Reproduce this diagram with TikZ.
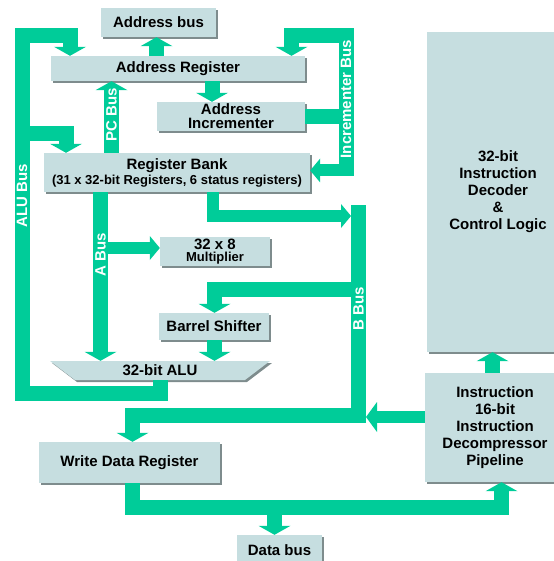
\documentclass[tikz,border=0pt]{standalone}
\usepackage{fontspec}
\setmainfont{Liberation Sans}
\usetikzlibrary{arrows.meta,shapes.geometric,shadows}
\begin{document}
\begin{tikzpicture}[
    x=1pt,y=-1pt,
    font=\bfseries\fontsize{15}{17}\selectfont,
    box/.style={fill=boxfill,inner sep=0pt,align=center,
      drop shadow={shadow xshift=2pt,shadow yshift=-2pt,fill=boxshade,opacity=1}},
    busline/.style={draw=busgreen,line width=15pt},
    bus/.style={busline,-{Triangle[width=32pt,length=9pt,line width=0pt]}},
    hbus/.style={busline,line width=12pt,-{Triangle[width=24pt,length=10pt,line width=0pt]}},
    buslabel/.style={text=white,rotate=90,inner sep=0pt}
  ]
    \definecolor{busgreen}{HTML}{00CC99}
    \definecolor{boxfill}{HTML}{C6DEE0}
    \definecolor{boxshade}{HTML}{7E8C8D}
    \useasboundingbox (0,0) rectangle (553,561);
    \node[box,minimum width=115pt,minimum height=29pt] (addrbus) at (158.5,22.5) {Address bus};
    \node[box,minimum width=254pt,minimum height=25pt] (addrreg) at (178,68.5) {Address Register};
    \node[box,minimum width=148pt,minimum height=29pt,font=\bfseries\fontsize{15}{14}\selectfont]
      (incr) at (231,116.5) {Address\\Incrementer};
    \node[box,minimum width=266pt,minimum height=39pt,font=\bfseries\fontsize{15}{15}\selectfont]
      (regbank) at (177,172.5) {Register Bank\\{\fontsize{13}{15}\selectfont(31 x 32-bit Registers, 6 status registers)}};
    \node[box,minimum width=110pt,minimum height=29pt,font=\bfseries\fontsize{15}{12}\selectfont]
      (mult) at (215,251.5) {32 x 8\\{\fontsize{13}{12}\selectfont Multiplier}};
    \node[box,minimum width=110pt,minimum height=27pt] (barrel) at (214,326.5) {Barrel Shifter};
    \node[box,trapezium,trapezium left angle=45,trapezium right angle=45,shape border rotate=180,
      trapezium stretches=true,minimum width=220pt,minimum height=19pt] (alu) at (160,370.5) {32-bit ALU};
    \node[box,minimum width=181pt,minimum height=41pt] (wdr) at (129.5,462.5) {Write Data Register};
    \node[box,minimum width=85pt,minimum height=30pt] (databus) at (279.5,550) {Data bus};
    \node[box,minimum width=142pt,minimum height=320pt] (dec) at (498,192)
      {32-bit\\Instruction\\Decoder\\\&\\Control Logic};
    \node[box,minimum width=140pt,minimum height=109pt] (pipe) at (495,427.5)
      {Instruction\\16-bit\\Instruction\\Decompressor\\Pipeline};
    \coordinate (bleft) at (351,216);
    \coordinate (bright) at (366,417);
    \draw[bus] (alu.south -| 160,0) |- (22,393) |- (70,36) -- (addrreg.north -| 70,0);
    \draw[bus] (22,133.5) -| (regbank.north -| 66,0);
    \draw[bus] (regbank.north -| 111.5,0) -- (addrreg.south -| 111.5,0);
    \draw[bus] (addrreg.north -| 156.5,0) -- (addrbus.south -| 156.5,0);
    \draw[bus] (addrreg.south -| 212,0) -- (incr.north -| 212,0);
    \draw[busline] (incr.east) -- (346,116.5);
    \draw[bus] (346,176) -- (346,36) -| (addrreg.north -| 291.5,0);
    \draw[hbus] (346,116.5) |- (regbank.east |- 0,170.5);
    \draw[bus] (regbank.south -| 100.5,0) -- (alu.north -| 100.5,0);
    \draw[hbus] (100.5,248) -- (mult.west |- 0,248);
    \draw[hbus] (regbank.south -| 212.5,0) |- (bleft);
    \draw[bus] (358.5,205) |- (132.5,415.5) -- (wdr.north -| 132.5,0);
    \draw[bus] (358.5,289) -| (barrel.north -| 214.5,0);
    \draw[bus] (barrel.south -| 214.5,0) -- (alu.north -| 214.5,0);
    \draw[hbus,-{Triangle[width=30pt,length=11pt,line width=0pt]}] (pipe.west |- 0,417) -- (bright);
    \draw[bus] (pipe.north -| 492.5,0) -- (dec.south -| 492.5,0);
    \draw[bus] (wdr.south -| 132,0) |- (501.5,507.5) -- (pipe.south -| 501.5,0);
    \draw[bus] (274.5,507.5) -- (databus.north -| 274.5,0);
    \node[buslabel] (alulbl) at (22,195.5) {ALU Bus};
    \node[buslabel] (pclbl) at (111.5,115) {PC Bus};
    \node[buslabel] (inclbl) at (346,99) {Incrementer Bus};
    \node[buslabel] (albl) at (100.5,255) {A Bus};
    \node[buslabel] (blbl) at (358.5,309) {B Bus};
  \end{tikzpicture}
\end{document}
